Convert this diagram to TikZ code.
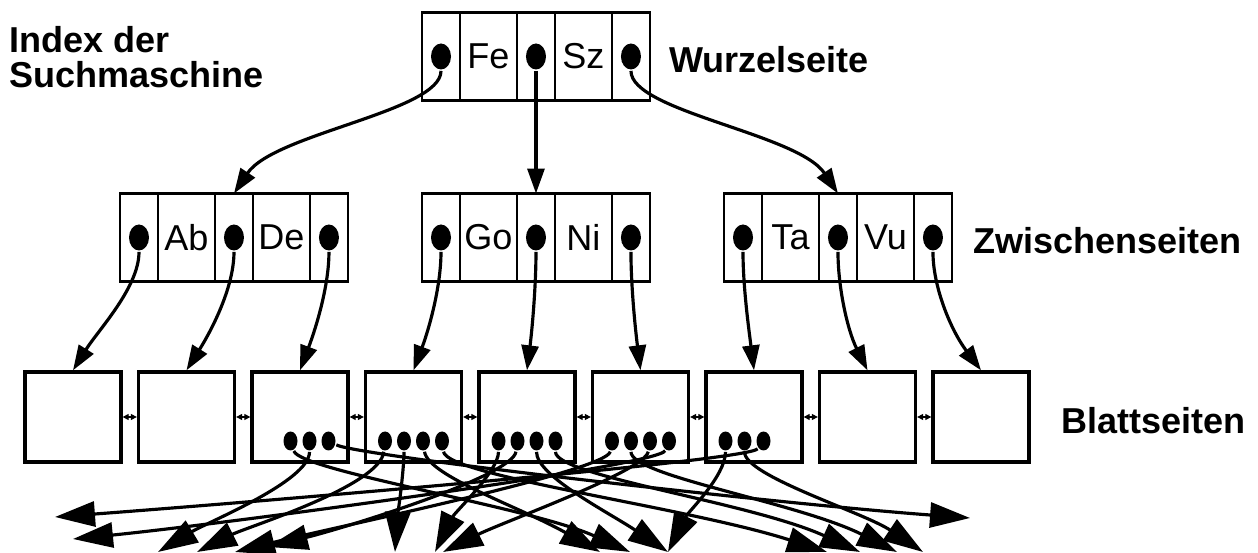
\documentclass[tikz,border=0pt]{standalone}
\usepackage{fontspec}
\setsansfont{Liberation Sans}
\usetikzlibrary{arrows.meta, positioning, shapes.geometric}
\tikzset{
  every picture/.style={font=\sffamily\fontsize{20.5}{20}\selectfont, line width=1.6pt},
  ptrcell/.style={draw, outer sep=0pt, inner sep=0pt, minimum width=0.76cm, minimum height=1.76cm},
  keycell/.style={ptrcell, minimum width=1.14cm},
  ptr/.style={ellipse, fill, inner sep=0pt, minimum width=0.4cm, minimum height=0.52cm},
  leafptr/.style={ptr, minimum width=0.28cm, minimum height=0.38cm},
  leaf/.style={draw, line width=1.9pt, minimum width=1.92cm, minimum height=1.8cm},
  arrow/.style={-{Triangle[length=5mm, width=3.4mm]}, line width=1.8pt},
  bigarrow/.style={-{Triangle[length=8mm, width=5mm]}, line width=1.8pt},
  link/.style={{Triangle[length=1.2mm, width=1.2mm]}-{Triangle[length=1.2mm, width=1.2mm]}, line width=0.7pt},
  title/.style={font=\sffamily\bfseries\fontsize{20.5}{20}\selectfont, inner sep=0pt, align=left},
}

\begin{document}
\begin{tikzpicture}[x=0.02cm, y=-0.02cm]
  \useasboundingbox (0,0) rectangle (1258,553);
  % root and intermediate pages
  \foreach \n/\x/\y/\ka/\kb in {r/441/56.5/Fe/Sz, a/139/237.5/Ab/De, b/441/237.5/Go/Ni, c/743/237.5/Ta/Vu} {
    \node[ptrcell] (\n1) at (\x,\y) {};
    \node[keycell, right=0pt of \n1] (\n-k1) {\ka};
    \node[ptrcell, right=0pt of \n-k1] (\n2) {};
    \node[keycell, right=0pt of \n2] (\n-k2) {\kb};
    \node[ptrcell, right=0pt of \n-k2] (\n3) {};
    \foreach \i in {1,2,3} \node[ptr] (\n-d\i) at (\n\i) {};
  }
  % leaf pages
  \foreach \i in {1,...,9} \node[leaf] (l\i) at ({73+113.5*(\i-1)}, 417) {};
  \foreach \i [evaluate=\i as \j using int(\i+1)] in {1,...,8} \draw[link] (l\i) -- (l\j);
  \foreach \b/\s in {3/2, 3/3, 3/4, 4/1, 4/2, 4/3, 4/4, 5/1, 5/2, 5/3, 5/4, 6/1, 6/2, 6/3, 6/4, 7/1, 7/2, 7/3}
    \node[leafptr] (p\b\s) at ({73+113.5*(\b-1)+19*\s-47.5}, 441) {};
  % labels
  \node[title, anchor=north west] (idx) at (8,25) {Index der\\Suchmaschine};
  \node[title, anchor=base west] (wurzel) at (668,73) {Wurzelseite};
  \node[title, anchor=base west] (zwischen) at (972,254) {Zwischenseiten};
  \node[title, anchor=base west] (blatt) at (1060,434) {Blattseiten};
  % root to intermediate
  \draw[arrow] (r-d1) .. controls +(0,55) and +(40,-60) .. (a2.north);
  \draw[arrow] (r-d2) -- (b2.north);
  \draw[arrow] (r-d3) .. controls +(0,55) and +(-40,-60) .. (c2.north);
  % intermediate to leaves
  \foreach \s/\t/\dx in {a-d1/l1/25, a-d2/l2/25, a-d3/l3/15, b-d1/l4/15, b-d2/l5/5, b-d3/l6/-5, c-d1/l7/-5, c-d2/l8/-20, c-d3/l9/-30}
    \draw[arrow] (\s) .. controls +(0,50) and +(\dx,-40) .. (\t.north);
  % leaf entries to documents
  \foreach \s/\x/\y/\ax/\ay/\bx/\by in {33/158/552/0/40/50/-30, 41/197/552/-5/45/50/-25, 42/395/552/0/30/2/-30,
      51/435/552/0/30/20/-40, 52/268/547/-5/35/80/-20, 61/235/552/-5/30/100/-25, 63/443/552/-5/30/60/-30,
      64/73/539/-10/25/150/-15, 73/55/517/-15/20/200/-15, 71/668/552/0/35/20/-40,
      32/630/552/10/30/-100/-45, 34/970/518/30/15/-200/-15, 43/600/552/5/35/-80/-45, 44/827/552/5/35/-140/-45,
      53/668/552/0/35/-60/-40, 54/860/552/0/35/-110/-50, 62/897/552/0/35/-100/-50, 72/923/552/0/35/-60/-40} {
    \coordinate (t\s) at (\x,\y);
    \draw[bigarrow] (p\s) .. controls +(\ax,\ay) and +(\bx,\by) .. (t\s);
  }
\end{tikzpicture}
\end{document}
